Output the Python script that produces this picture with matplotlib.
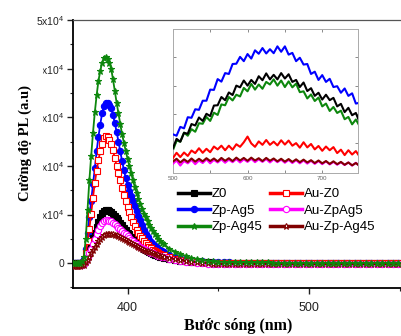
import numpy as np
import matplotlib
matplotlib.use("Agg")
import matplotlib.pyplot as plt
from matplotlib.patches import Rectangle
from matplotlib.ticker import MultipleLocator

plt.rcParams['font.family'] = ['Liberation Sans', 'DejaVu Sans']
plt.rcParams['mathtext.fontset'] = 'custom'
plt.rcParams['mathtext.rm'] = 'Liberation Sans'
plt.rcParams['mathtext.it'] = 'Liberation Sans'

# main spectra: 1 nm steps 370-420, then 3 nm steps 423-549; intensity in units of 1e4
wl = np.concatenate([np.arange(370, 421, 1), np.arange(423, 550, 3)])
z0 = [0.0, 0.0, 0.0, 0.0, 0.0, 0.01, 0.02, 0.1, 0.18, 0.28, 0.4, 0.51, 0.62, 0.74, 0.85, 0.95,
      1.03, 1.08, 1.1, 1.1, 1.08, 1.06, 1.02, 0.98, 0.93, 0.88, 0.83, 0.78, 0.73, 0.68, 0.63,
      0.59, 0.54, 0.5, 0.46, 0.42, 0.39, 0.36, 0.33, 0.3, 0.28, 0.25, 0.23, 0.21, 0.19, 0.17,
      0.16, 0.14, 0.13, 0.12, 0.11,
      0.09, 0.07, 0.05, 0.04, 0.03, 0.03, 0.02, 0.02, 0.01, 0.01, 0.01, 0.01, 0.01, 0.01, 0.01,
      0.01, 0.01, 0.01, 0.01, 0.01, 0.01, 0.01, 0.01, 0.01, 0.01, 0.01, 0.01, 0.01, 0.01, 0.01,
      0.01, 0.01, 0.01, 0.01, 0.01, 0.01, 0.01, 0.01, 0.01, 0.01, 0.01, 0.01, 0.01]
zp_ag5 = [0.0, 0.0, 0.0, 0.0, 0.01, 0.03, 0.08, 0.3, 0.62, 0.95, 1.28, 1.62, 1.95, 2.3, 2.6, 2.85,
          3.08, 3.24, 3.3, 3.3, 3.26, 3.2, 3.05, 2.88, 2.7, 2.5, 2.3, 2.1, 1.92, 1.75, 1.6, 1.49,
          1.38, 1.28, 1.18, 1.08, 0.98, 0.88, 0.78, 0.68, 0.6, 0.54, 0.48, 0.44, 0.4, 0.36, 0.33,
          0.3, 0.27, 0.25, 0.22,
          0.17, 0.13, 0.1, 0.08, 0.06, 0.05, 0.04, 0.03, 0.03, 0.02, 0.02, 0.02, 0.01, 0.01, 0.01,
          0.01, 0.01, 0.01, 0.01, 0.01, 0.01, 0.01, 0.01, 0.01, 0.01, 0.01, 0.01, 0.01, 0.01, 0.01,
          0.01, 0.01, 0.01, 0.01, 0.01, 0.01, 0.01, 0.01, 0.01, 0.01, 0.01, 0.01, 0.01]
zp_ag45 = [0.0, 0.0, 0.0, 0.0, 0.01, 0.04, 0.12, 0.5, 1.1, 1.7, 2.2, 2.68, 3.1, 3.45, 3.75, 3.95,
           4.12, 4.22, 4.24, 4.2, 4.12, 4.0, 3.78, 3.54, 3.3, 3.08, 2.86, 2.65, 2.48, 2.31, 2.15,
           2.0, 1.85, 1.7, 1.57, 1.44, 1.32, 1.22, 1.12, 1.02, 0.94, 0.86, 0.78, 0.72, 0.66, 0.6,
           0.55, 0.5, 0.46, 0.42, 0.39,
           0.3, 0.24, 0.19, 0.15, 0.11, 0.09, 0.07, 0.05, 0.04, 0.03, 0.03, 0.02, 0.02, 0.02, 0.02,
           0.02, 0.02, 0.02, 0.02, 0.01, 0.01, 0.01, 0.01, 0.01, 0.01, 0.01, 0.01, 0.01, 0.01, 0.01,
           0.01, 0.01, 0.01, 0.01, 0.01, 0.01, 0.01, 0.01, 0.01, 0.01, 0.01, 0.01, 0.01]
au_z0 = [-0.02, -0.02, -0.02, -0.02, -0.01, 0.0, 0.02, 0.2, 0.45, 0.7, 1.02, 1.35, 1.65, 1.9, 2.12,
         2.3, 2.45, 2.57, 2.62, 2.6, 2.54, 2.45, 2.32, 2.16, 2.0, 1.85, 1.7, 1.55, 1.41, 1.28, 1.15,
         1.05, 0.95, 0.85, 0.77, 0.69, 0.62, 0.56, 0.51, 0.46, 0.42, 0.38, 0.34, 0.31, 0.28, 0.25,
         0.23, 0.21, 0.19, 0.17, 0.16,
         0.12, 0.09, 0.07, 0.05, 0.04, 0.03, 0.02, 0.01, 0.01, 0.0, 0.0, 0.0, 0.0, 0.0, 0.0,
         0.0, 0.0, 0.0, 0.0, 0.0, 0.0, 0.0, 0.0, 0.0, 0.0, 0.0, 0.0, 0.0, 0.0, 0.0,
         0.0, 0.0, 0.0, 0.0, 0.0, 0.0, 0.0, 0.0, 0.0, 0.0, 0.0, 0.0, 0.0]
au_zpag5 = [-0.04, -0.04, -0.04, -0.04, -0.04, -0.03, -0.02, 0.05, 0.12, 0.2, 0.3, 0.4, 0.5, 0.6,
            0.69, 0.76, 0.82, 0.86, 0.88, 0.88, 0.87, 0.86, 0.83, 0.8, 0.77, 0.73, 0.7, 0.66, 0.62,
            0.59, 0.55, 0.52, 0.48, 0.45, 0.42, 0.39, 0.36, 0.34, 0.31, 0.29, 0.27, 0.25, 0.23,
            0.21, 0.2, 0.18, 0.17, 0.15, 0.14, 0.13, 0.12,
            0.09, 0.07, 0.05, 0.03, 0.02, 0.01, 0.0, -0.01, -0.02, -0.02, -0.02, -0.02, -0.02,
            -0.02, -0.02, -0.02, -0.02, -0.02, -0.02, -0.02, -0.02, -0.02, -0.02, -0.02, -0.02,
            -0.02, -0.02, -0.02, -0.02, -0.02, -0.02, -0.02, -0.02, -0.02, -0.02, -0.02, -0.02,
            -0.02, -0.02, -0.02, -0.02, -0.02, -0.02]
au_zp_ag45 = [-0.05, -0.05, -0.05, -0.05, -0.05, -0.04, -0.03, 0.02, 0.07, 0.13, 0.2, 0.27, 0.33,
              0.39, 0.45, 0.5, 0.54, 0.58, 0.6, 0.61, 0.61, 0.61, 0.6, 0.58, 0.57, 0.55, 0.53,
              0.51, 0.49, 0.47, 0.45, 0.43, 0.41, 0.39, 0.37, 0.35, 0.33, 0.31, 0.3, 0.28, 0.26,
              0.25, 0.23, 0.22, 0.2, 0.19, 0.18, 0.16, 0.15, 0.14, 0.13,
              0.1, 0.08, 0.06, 0.04, 0.03, 0.02, 0.01, 0.0, -0.01, -0.02, -0.02, -0.02, -0.02,
              -0.02, -0.02, -0.02, -0.02, -0.02, -0.02, -0.02, -0.02, -0.02, -0.02, -0.02, -0.02,
              -0.02, -0.02, -0.02, -0.02, -0.02, -0.02, -0.02, -0.02, -0.02, -0.02, -0.02, -0.02,
              -0.02, -0.02, -0.02, -0.02, -0.02, -0.02]

# inset (visible band), 5 nm steps 500-750, arbitrary units
wl_in = np.arange(500, 751, 5)
in_z0 = [0.80, 1.14, 1.04, 1.35, 1.32, 1.66, 1.61, 1.89, 1.77, 2.02, 1.94, 2.31, 2.32, 2.61, 2.50,
         2.77, 2.68, 3.01, 2.95, 3.19, 3.01, 3.21, 3.07, 3.34, 3.20, 3.44, 3.23, 3.39, 3.23, 3.45,
         3.26, 3.41, 3.14, 3.21, 2.96, 3.12, 2.82, 2.92, 2.65, 2.76, 2.52, 2.69, 2.50, 2.58, 2.28,
         2.37, 2.08, 2.23, 1.97, 2.05, 1.73]
in_zp_ag5 = [1.30, 1.25, 1.56, 1.51, 1.90, 1.88, 2.18, 2.16, 2.48, 2.48, 2.87, 2.86, 3.24, 3.15,
             3.45, 3.42, 3.77, 3.78, 4.02, 3.87, 4.12, 3.96, 4.25, 4.13, 4.33, 4.14, 4.29, 4.15,
             4.39, 4.20, 4.39, 4.10, 4.16, 3.87, 3.99, 3.75, 3.77, 3.42, 3.50, 3.21, 3.38, 3.14,
             3.25, 2.96, 2.99, 2.76, 2.91, 2.65, 2.74, 2.38, 2.41]
in_zp_ag45 = [0.73, 1.08, 1.04, 1.36, 1.25, 1.48, 1.39, 1.69, 1.67, 1.91, 1.77, 2.06, 1.98, 2.35,
              2.32, 2.61, 2.49, 2.69, 2.63, 2.93, 2.81, 3.07, 2.87, 3.05, 2.90, 3.14, 3.05, 3.23,
              3.01, 3.19, 2.96, 3.16, 2.95, 3.08, 2.78, 2.81, 2.56, 2.70, 2.47, 2.59, 2.28, 2.38,
              2.12, 2.26, 2.05, 2.13, 1.83, 1.91, 1.65, 1.82, 1.59]
in_au_z0 = [0.46, 0.65, 0.50, 0.66, 0.54, 0.73, 0.64, 0.81, 0.65, 0.79, 0.67, 0.87, 0.77, 0.90,
            0.74, 0.90, 0.76, 0.95, 0.86, 1.02, 1.22, 0.98, 0.86, 1.05, 0.93, 1.10, 0.93, 1.04,
            0.91, 1.09, 0.94, 1.08, 0.90, 0.99, 0.83, 1.02, 0.84, 0.96, 0.77, 0.89, 0.72, 0.87,
            0.74, 0.85, 0.64, 0.76, 0.57, 0.74, 0.59, 0.71, 0.52]
in_au_zpag5 = [0.26, 0.38, 0.2, 0.36, 0.28, 0.4, 0.25, 0.38, 0.29, 0.42, 0.28, 0.4, 0.31, 0.42,
               0.3, 0.41, 0.32, 0.43, 0.31, 0.42, 0.33, 0.44, 0.32, 0.42, 0.33, 0.43, 0.31, 0.42,
               0.32, 0.41, 0.3, 0.4, 0.29, 0.39, 0.28, 0.38, 0.27, 0.37, 0.26, 0.36, 0.25, 0.35,
               0.24, 0.33, 0.23, 0.32, 0.22, 0.31, 0.2, 0.3, 0.18]
in_au_zp_ag45 = [0.34, 0.44, 0.31, 0.42, 0.33, 0.45, 0.34, 0.44, 0.35, 0.46, 0.36, 0.45, 0.35,
                 0.47, 0.37, 0.46, 0.36, 0.48, 0.38, 0.47, 0.37, 0.48, 0.38, 0.46, 0.36, 0.47,
                 0.37, 0.45, 0.35, 0.44, 0.34, 0.43, 0.33, 0.42, 0.32, 0.41, 0.31, 0.39, 0.29,
                 0.38, 0.28, 0.36, 0.26, 0.35, 0.25, 0.33, 0.23, 0.31, 0.21, 0.29, 0.19]

labels = ['Z0', 'Zp-Ag5', 'Zp-Ag45', 'Au-Z0', 'Au-ZpAg5', 'Au-Zp-Ag45']
colors = ['#000000', '#0000ff', '#0d870d', '#ff0000', '#ff00ff', '#800000']
markers = ['s', 'o', '*', 's', 'o', '*']
filled = [True, True, True, False, False, False]
msizes = [4.5, 4.5, 5, 5, 4.5, 5]
zorders = [4, 3, 7, 5, 6, 6]
main_data = [z0, zp_ag5, zp_ag45, au_z0, au_zpag5, au_zp_ag45]
inset_data = [in_z0, in_zp_ag5, in_zp_ag45, in_au_z0, in_au_zpag5, in_au_zp_ag45]
inset_z = [3, 4, 2, 5, 6, 7]

fig = plt.figure(figsize=(4.01, 3.36), dpi=100)
ax = fig.add_axes([0.182, 0.1429, 0.823, 0.7976])

handles = []
for i in range(6):
    h, = ax.plot(wl, np.array(main_data[i]) * 1e4, color=colors[i], lw=1.3,
                 marker=markers[i], ms=msizes[i], mew=0.8,
                 mfc=colors[i] if filled[i] else 'white', mec=colors[i],
                 zorder=zorders[i], label=labels[i])
    handles.append(h)

ax.set_xlim(370, 551.5)
ax.set_ylim(-5100, 50000)
ax.set_xticks([400, 500])
ax.xaxis.set_minor_locator(MultipleLocator(50))
ax.set_yticks([0, 10000, 20000, 30000, 40000, 50000])
ax.set_yticklabels(['0', r'1x10$^4$', r'2x10$^4$', r'3x10$^4$', r'4x10$^4$', r'5x10$^4$'])
ax.yaxis.set_minor_locator(MultipleLocator(5000))
ax.tick_params(axis='both', which='major', direction='out', length=4, width=1, colors='#222222')
ax.tick_params(axis='both', which='minor', direction='out', length=2.5, width=0.8, colors='#222222')
ax.tick_params(axis='x', labelsize=9, pad=6)
ax.tick_params(axis='y', labelsize=7.5, pad=2)
ax.spines['left'].set_linewidth(1.3)
ax.spines['bottom'].set_linewidth(1.3)
ax.spines['top'].set_color('#555555')
ax.spines['top'].set_linewidth(0.9)
ax.spines['right'].set_visible(False)

ax.set_xlabel('Bước sóng (nm)', fontfamily='Liberation Serif', fontweight='bold',
              fontsize=11.5, labelpad=3)

leg = ax.legend(handles=handles, ncol=2, loc='upper left',
                bbox_to_anchor=(178 / 401, 1 - 188 / 336), bbox_transform=fig.transFigure,
                frameon=False, fontsize=9.5, handlelength=2.4, handletextpad=0.15,
                columnspacing=0.6, labelspacing=0.32, borderpad=0, borderaxespad=0)
for ln in leg.get_lines():
    ln.set_linewidth(2.5)

# white block that hides the leading digits of the y tick labels
fig.add_artist(Rectangle((0, 0.286), 0.105, 0.61, transform=fig.transFigure,
                         color='white', zorder=5))
fig.text(25 / 401, 1 - 143 / 336, 'Cường độ PL (a.u)', rotation=90, ha='center', va='center',
         fontfamily='Liberation Serif', fontweight='bold', fontsize=10.5, zorder=6)

# inset
axin = fig.add_axes([0.431, 0.4851, 0.462, 0.4286])
for i in range(6):
    axin.plot(wl_in, inset_data[i], color=colors[i], lw=1.5, zorder=inset_z[i])
axin.set_xlim(500, 748)
axin.set_ylim(-0.06, 5.0)
axin.set_xticks([500, 600, 700])
axin.xaxis.set_minor_locator(MultipleLocator(50))
axin.set_yticks([1, 2, 3, 4])
axin.set_yticklabels([])
axin.tick_params(which='both', direction='in', length=2, width=0.6, colors='#777777',
                 top=True, right=True, labelsize=4.5, labelcolor='#666666', pad=2)
for s in axin.spines.values():
    s.set_color('#aaaaaa')
    s.set_linewidth(0.7)

fig.savefig('out.png', dpi=100)
